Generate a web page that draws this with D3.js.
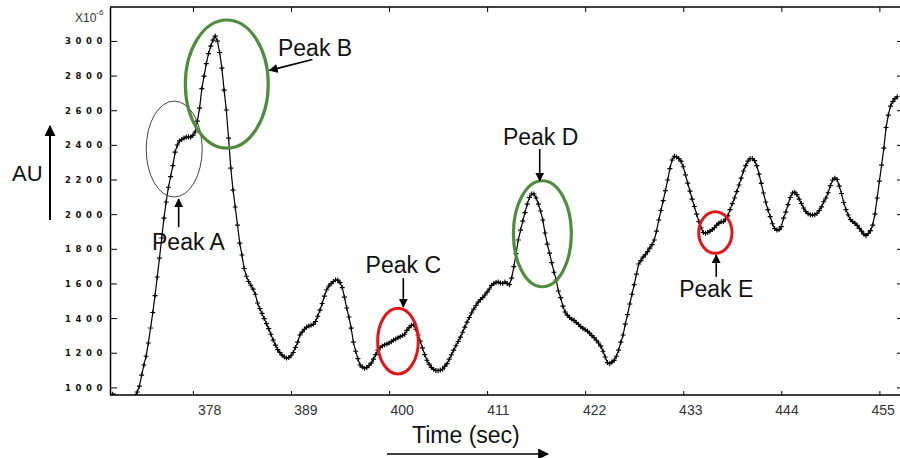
<!DOCTYPE html>
<html><head><meta charset="utf-8">
<script src="https://cdn.jsdelivr.net/npm/d3@7"></script>
<style>body{margin:0;background:#fff}svg{display:block}</style>
</head><body><svg id="c" width="900" height="458"></svg>
<script>
// ---- data ----
const timeStart = 369;      // sec, first sample
const timeStep = 0.25;      // sec between samples
const auValues = [
961,952,944,935,929,926,926,929,932,938,
949,973,1007,1071,1129,1180,1256,1343,1432,1530,
1637,1746,1862,1977,2070,2155,2217,2280,2358,2399,
2423,2431,2439,2445,2447,2444,2455,2474,2537,2612,
2725,2797,2869,2927,2970,3005,3028,2999,2933,2843,
2716,2601,2439,2266,2139,2041,1937,1833,1764,1686,
1642,1611,1590,1567,1538,1487,1455,1427,1397,1368,
1339,1307,1273,1244,1218,1201,1186,1175,1169,1172,
1183,1201,1230,1261,1302,1319,1336,1348,1354,1358,
1364,1380,1411,1446,1484,1527,1564,1585,1599,1611,
1620,1620,1605,1576,1521,1458,1406,1342,1261,1209,
1166,1129,1117,1111,1114,1126,1140,1163,1189,1215,
1230,1239,1246,1250,1256,1264,1273,1279,1286,1293,
1299,1307,1329,1345,1358,1362,1336,1302,1267,1228,
1189,1157,1134,1115,1104,1098,1096,1100,1105,1121,
1137,1163,1188,1215,1240,1265,1290,1318,1348,1377,
1403,1429,1452,1473,1492,1507,1518,1533,1550,1568,
1589,1599,1606,1608,1602,1600,1608,1600,1593,1631,
1697,1772,1851,1908,1960,2009,2058,2096,2116,2116,
2093,2058,2018,1966,1891,1827,1775,1720,1665,1620,
1556,1518,1469,1435,1417,1403,1394,1387,1374,1364,
1351,1342,1333,1325,1313,1299,1287,1272,1256,1238,
1209,1175,1143,1137,1146,1156,1180,1215,1261,1302,
1365,1420,1481,1538,1593,1654,1712,1732,1752,1766,
1784,1804,1824,1851,1902,1966,2021,2078,2136,2197,
2263,2313,2334,2330,2321,2306,2274,2227,2179,2133,
2087,2044,2000,1957,1922,1894,1890,1894,1902,1911,
1922,1937,1948,1956,1957,1972,1990,2026,2061,2093,
2130,2168,2208,2249,2280,2306,2321,2321,2309,2280,
2231,2178,2122,2070,2026,1986,1945,1917,1908,1911,
1928,1977,2012,2055,2096,2122,2127,2113,2087,2062,
2036,2015,2003,1997,1995,1997,2004,2021,2042,2072,
2093,2124,2165,2197,2208,2200,2162,2119,2067,2026,
1995,1969,1957,1948,1935,1918,1902,1885,1876,1888,
1905,1937,2000,2093,2191,2283,2381,2500,2572,2624,
2650,2667,2678
];
const xTickValues = [378, 389, 400, 411, 422, 433, 444, 455];
const yTickValues = [1000, 1200, 1400, 1600, 1800, 2000, 2200, 2400, 2600, 2800, 3000];
const xDomain = [368.7, 457.2];
const yDomain = [956, 3196];

// annotations (data coordinates)
const peakNames   = ["Peak A", "Peak B", "Peak C", "Peak D", "Peak E"];
const ellipseT    = [375.9, 381.8, 401.0, 417.2, 436.6];
const ellipseV    = [2376, 2751, 1267, 1887, 1894];
const ellipseRT   = [3.14, 4.65, 2.28, 3.25, 1.87];
const ellipseRV   = [277, 370, 190, 306, 120];
const ellipseKind = ["thin", "green", "red", "green", "red"];
const labelT      = [377.5, 391.7, 401.6, 417.0, 436.7];
const labelV      = [1792, 2913, 1658, 2399, 1523];
const arrowFromT  = [376.4, 391.4, 401.6, 416.9, 436.7];
const arrowFromV  = [1925, 2893, 1631, 2376, 1638];
const arrowToT    = [376.4, 386.6, 401.6, 416.9, 436.7];
const arrowToV    = [2087, 2830, 1465, 2193, 1764];

const points = auValues.map((v, i) => ({t: timeStart + i * timeStep, v}));

// ---- layout ----
const L = 110, R = 899, T = 7, B = 395;
const svg = d3.select("#c");
const x = d3.scaleLinear().domain(xDomain).range([L, R]);
const y = d3.scaleLinear().domain(yDomain).range([B, T]);

const defs = svg.append("defs");
defs.append("clipPath").attr("id", "clip")
  .append("rect").attr("x", L).attr("y", T).attr("width", 900 - L).attr("height", B - T);
const mk = defs.append("marker").attr("id", "ah")
  .attr("viewBox", "0 0 10 10").attr("refX", 9).attr("refY", 5)
  .attr("markerWidth", 9).attr("markerHeight", 9).attr("markerUnits", "userSpaceOnUse")
  .attr("orient", "auto");
mk.append("path").attr("d", "M0,0 L10,5 L0,10 Z").attr("fill", "#000");
const mk2 = defs.append("marker").attr("id", "ah2")
  .attr("viewBox", "0 0 10 10").attr("refX", 9).attr("refY", 5)
  .attr("markerWidth", 11).attr("markerHeight", 11).attr("markerUnits", "userSpaceOnUse")
  .attr("orient", "auto");
mk2.append("path").attr("d", "M0,0 L10,5 L0,10 Z").attr("fill", "#000");

// axes
const axBottom = svg.append("g").attr("transform", `translate(0,${B})`)
  .call(d3.axisBottom(x).tickValues(xTickValues).tickSizeInner(-4).tickSizeOuter(0).tickPadding(12));
axBottom.select(".domain").attr("stroke", "#000").attr("stroke-width", 1.5).attr("d", `M${L},0H900`);
axBottom.selectAll(".tick line").attr("stroke", "#000");
axBottom.selectAll(".tick text").attr("font-family", "Liberation Sans, Arial, sans-serif")
  .attr("font-size", 14).attr("fill", "#333").attr("text-anchor", "middle")
  .attr("x", d => 20 - 0.019 * x(d)).attr("dy", "0.6em");

const axTop = svg.append("g").attr("transform", `translate(0,${T})`)
  .call(d3.axisTop(x).tickValues(xTickValues).tickSizeInner(-5).tickSizeOuter(0).tickFormat(""));
axTop.select(".domain").attr("stroke", "#000").attr("stroke-width", 1.5).attr("d", `M${L},0H900`);
axTop.selectAll(".tick line").attr("stroke", "#000");

const axLeft = svg.append("g").attr("transform", `translate(${L},0)`)
  .call(d3.axisLeft(y).tickValues(yTickValues).tickFormat(d3.format("d"))
    .tickSizeInner(-7).tickSizeOuter(0).tickPadding(0));
axLeft.select(".domain").attr("stroke", "#000").attr("stroke-width", 1.5);
axLeft.selectAll(".tick line").attr("stroke", "#000");
axLeft.selectAll(".tick text").attr("font-family", "DejaVu Sans, sans-serif").attr("font-weight", "bold")
  .attr("font-size", 8.5).attr("fill", "#111").attr("text-anchor", "start")
  .attr("x", 65 - L).attr("letter-spacing", 4.6).attr("dy", "0.35em");

const axRight = svg.append("g").attr("transform", `translate(900.5,0)`)
  .call(d3.axisRight(y).tickValues(yTickValues).tickSizeInner(-3.5).tickSizeOuter(0).tickFormat(""));
axRight.select(".domain").attr("stroke", "none");
axRight.selectAll(".tick line").attr("stroke", "#000");

// scale factor label
const sf = svg.append("text").attr("x", 75).attr("y", 22)
  .attr("font-family", "Liberation Sans, Arial, sans-serif").attr("font-size", 12).attr("fill", "#333");
sf.append("tspan").text("X10");
sf.append("tspan").attr("font-size", 8).attr("dy", -7).text("-6");

// data line + markers
const plot = svg.append("g").attr("clip-path", "url(#clip)");
plot.append("path").datum(points)
  .attr("fill", "none").attr("stroke", "#000").attr("stroke-width", 1.2)
  .attr("d", d3.line().x(d => x(d.t)).y(d => y(d.v)));
plot.append("g").selectAll("path").data(points).join("path")
  .attr("d", d => `M${x(d.t) - 2.5},${y(d.v)}h5M${x(d.t)},${y(d.v) - 2.5}v5`)
  .attr("stroke", "#000").attr("stroke-width", 1.1);

// annotations
const ellStroke = {thin: "#444", green: "#4f8c3d", red: "#e0161b"};
const ellWidth = {thin: 1, green: 3.2, red: 3};
peakNames.forEach((name, i) => {
  const cx = x(ellipseT[i]), cy = y(ellipseV[i]);
  svg.append("ellipse").attr("cx", cx).attr("cy", cy)
    .attr("rx", x(ellipseT[i] + ellipseRT[i]) - cx).attr("ry", cy - y(ellipseV[i] + ellipseRV[i]))
    .attr("fill", "none").attr("stroke", ellStroke[ellipseKind[i]]).attr("stroke-width", ellWidth[ellipseKind[i]]);
  svg.append("line")
    .attr("x1", x(arrowFromT[i])).attr("y1", y(arrowFromV[i]))
    .attr("x2", x(arrowToT[i])).attr("y2", y(arrowToV[i]))
    .attr("stroke", "#000").attr("stroke-width", 1.6).attr("marker-end", "url(#ah)");
  svg.append("text").attr("x", x(labelT[i])).attr("y", y(labelV[i]))
    .attr("text-anchor", "middle").attr("font-family", "Liberation Sans, Arial, sans-serif")
    .attr("font-size", 23).attr("fill", "#111").text(name);
});

// axis titles
svg.append("text").attr("x", 412).attr("y", 443)
  .attr("font-family", "Liberation Sans, Arial, sans-serif").attr("font-size", 23).attr("fill", "#111")
  .text("Time (sec)");
svg.append("line").attr("x1", 387).attr("y1", 454).attr("x2", 548).attr("y2", 454)
  .attr("stroke", "#000").attr("stroke-width", 1.5).attr("marker-end", "url(#ah2)");

svg.append("text").attr("x", 12).attr("y", 181)
  .attr("font-family", "Liberation Sans, Arial, sans-serif").attr("font-size", 22).attr("fill", "#111")
  .text("AU");
svg.append("line").attr("x1", 50).attr("y1", 220).attr("x2", 50).attr("y2", 126)
  .attr("stroke", "#000").attr("stroke-width", 2).attr("marker-end", "url(#ah2)");
</script></body></html>
